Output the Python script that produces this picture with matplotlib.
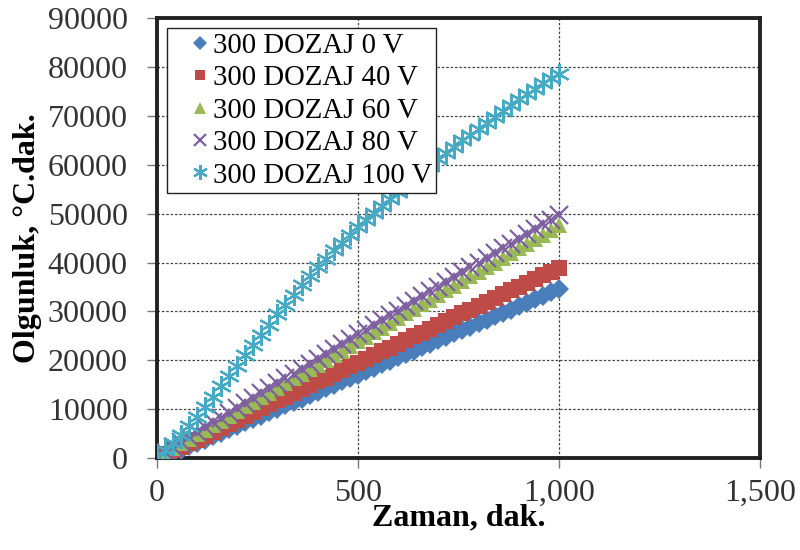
import matplotlib
matplotlib.use("Agg")
import matplotlib.pyplot as plt
from matplotlib.ticker import FuncFormatter

plt.rcParams['font.family'] = ['Liberation Serif', 'DejaVu Serif']
fontsize = 23

# zaman (dak.) ve olgunluk degerleri, 20 dakikada bir
zaman = list(range(0, 1001, 20))

v0 = [200, 600, 1100, 1700, 2400, 3100, 3800, 4500, 5200, 5900, 6600, 7300, 8000,
      8700, 9400, 10100, 10800, 11500, 12200, 12900, 13600, 14300, 15000, 15700,
      16400, 17100, 17800, 18500, 19200, 19900, 20600, 21300, 22000, 22700, 23400,
      24100, 24800, 25500, 26200, 26900, 27600, 28300, 29000, 29700, 30400, 31100,
      31800, 32500, 33200, 33900, 34600]
v40 = [300, 900, 1600, 2300, 3000, 3800, 4600, 5400, 6200, 7000, 7800, 8600, 9400,
       10200, 11000, 11800, 12600, 13300, 14100, 14900, 15700, 16400, 17200, 18000,
       18800, 19500, 20300, 21100, 21900, 22600, 23400, 24200, 25000, 25700, 26500,
       27300, 28100, 28800, 29600, 30400, 31200, 31900, 32700, 33500, 34300, 35000,
       35800, 36600, 37400, 38100, 38900]
v60 = [200, 1100, 2000, 3000, 3900, 4900, 5800, 6800, 7700, 8700, 9600, 10600, 11500,
       12500, 13400, 14400, 15300, 16300, 17200, 18200, 19100, 20100, 21000, 22000,
       22900, 23900, 24800, 25800, 26700, 27700, 28600, 29600, 30500, 31500, 32400,
       33400, 34300, 35300, 36200, 37200, 38100, 39100, 40000, 41000, 41900, 42900,
       43800, 44800, 45700, 46700, 47600]
v80 = [300, 1300, 2300, 3300, 4300, 5300, 6300, 7300, 8300, 9300, 10300, 11300, 12300,
       13300, 14300, 15300, 16300, 17300, 18300, 19300, 20300, 21300, 22300, 23300,
       24300, 25300, 26300, 27300, 28300, 29200, 30200, 31200, 32200, 33200, 34100,
       35100, 36100, 37100, 38000, 39000, 40000, 41000, 41900, 42900, 43900, 44900,
       45800, 46800, 47800, 48800, 49800]
v100 = [300, 1600, 3100, 4800, 6600, 8500, 10500, 12600, 14700, 16800, 18900, 21000,
        23100, 25200, 27300, 29400, 31400, 33400, 35400, 37300, 39100, 40800, 42500,
        44100, 45700, 47300, 48800, 50200, 51600, 53000, 54400, 55800, 57100, 58500,
        59800, 61100, 62400, 63700, 65000, 66200, 67400, 68600, 69800, 71000, 72200,
        73400, 74500, 75600, 76700, 77700, 78500]

series = [
    (v0, '300 DOZAJ 0 V', '#4A7EBB', 'D', 10.5),
    (v40, '300 DOZAJ 40 V', '#BE4B48', 's', 11.0),
    (v60, '300 DOZAJ 60 V', '#98B954', '^', 12.0),
    (v80, '300 DOZAJ 80 V', '#7D60A0', 'x', 12.5),
    (v100, '300 DOZAJ 100 V', '#46AAC5', (6, 2, 0), 15.0),
]

fig = plt.figure(figsize=(8, 5.5), dpi=100)
ax = fig.add_axes([0.196, 0.167, 0.754, 0.80])

for vals, label, color, marker, ms in series:
    if marker in ('x', (6, 2, 0)):
        ax.plot(zaman, vals, linestyle='none', marker=marker, markersize=ms,
                markeredgecolor=color, markerfacecolor=color, markeredgewidth=1.6,
                label=label, zorder=3)
    else:
        ax.plot(zaman, vals, linestyle='none', marker=marker, markersize=ms,
                color=color, markeredgewidth=0, label=label, zorder=3)

ax.set_xlim(0, 1500)
ax.set_ylim(0, 90000)
ax.set_xticks([0, 500, 1000, 1500])
ax.set_yticks(range(0, 90001, 10000))
ax.xaxis.set_major_formatter(FuncFormatter(lambda v, p: f'{int(v):,}'))
ax.yaxis.set_major_formatter(FuncFormatter(lambda v, p: f'{int(v)}'))
ax.tick_params(axis='both', labelsize=fontsize, direction='out', length=7,
               width=1, color='#777777', labelcolor='#333333')
ax.tick_params(axis='y', pad=14)
ax.tick_params(axis='x', pad=8)

ax.grid(True, linestyle=(0, (2, 1.5)), color='#444444', linewidth=0.9, zorder=0)
ax.set_axisbelow(True)
for side in ['left', 'bottom', 'top', 'right']:
    ax.spines[side].set_linewidth(2.8)
    ax.spines[side].set_color('#222222')

ax.set_xlabel('Zaman, dak.', fontsize=fontsize, fontweight='bold', labelpad=-3)
ax.set_ylabel('Olgunluk, °C.dak.', fontsize=fontsize, fontweight='bold', labelpad=4)

leg = ax.legend(loc='upper left', bbox_to_anchor=(0.0166, 0.977), fontsize=20.7,
                frameon=True, fancybox=False, edgecolor='#222222', framealpha=1,
                labelspacing=0.22, handletextpad=-0.56, handlelength=2.0,
                borderpad=0.15, borderaxespad=0.0, markerscale=0.7)
leg.get_frame().set_linewidth(1.0)

fig.savefig('out.png', dpi=100)
